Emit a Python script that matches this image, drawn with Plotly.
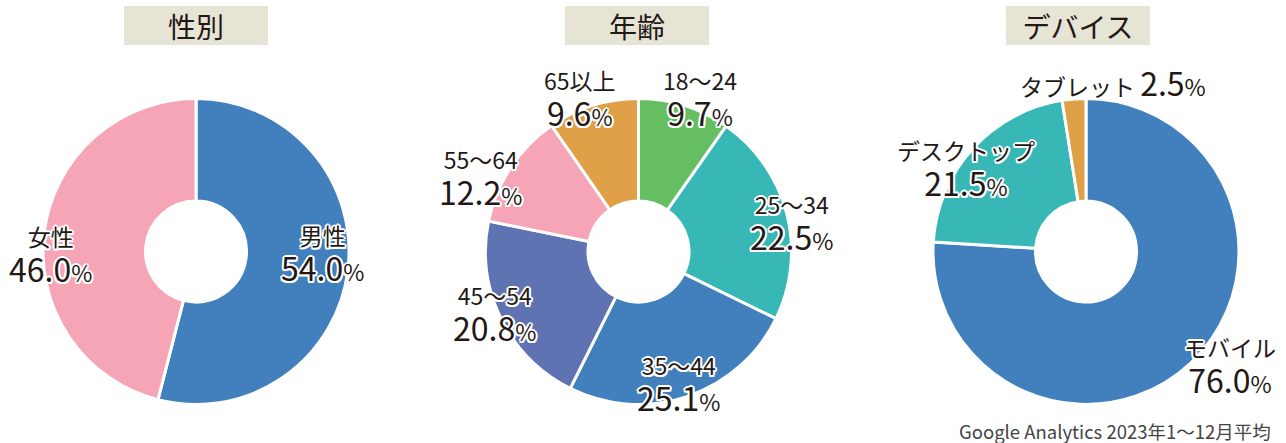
import math
import plotly.graph_objects as go

W, H = 1286, 443

# ---- data ----
titles = ["性別", "年齢", "デバイス"]
gender_labels = ["男性", "女性"]
gender_values = [54.0, 46.0]
age_labels = ["18〜24", "25〜34", "35〜44", "45〜54", "55〜64", "65以上"]
age_values = [9.7, 22.5, 25.1, 20.8, 12.2, 9.6]
device_labels = ["モバイル", "デスクトップ", "タブレット"]
device_values = [76.0, 21.5, 2.5]
footnote = "Google Analytics 2023年1〜12月平均"

# ---- style ----
BLUE, PINK, GREEN, TEAL, INDIGO, ORANGE = "#4180BD", "#F6A5B7", "#66BE62", "#37B7B5", "#5F73B3", "#E0A048"
gender_colors = [BLUE, PINK]
age_colors = [GREEN, TEAL, BLUE, INDIGO, PINK, ORANGE]
device_colors = [BLUE, TEAL, ORANGE]
FONT = "Noto Sans CJK JP"
TXT = "#231815"
HALO = ("2px 0 #fff, -2px 0 #fff, 0 2px #fff, 0 -2px #fff, "
        "1.5px 1.5px #fff, -1.5px -1.5px #fff, 1.5px -1.5px #fff, -1.5px 1.5px #fff")
NAME_SIZE, VAL_SIZE, LINE_BASE = 23, 32, 28

cxs = [196, 638.5, 1086]
cy = 251.5
R = 153
title_cx = [196, 637, 1078]

charts = [
    (gender_labels, gender_values, gender_colors, [0.824, 0.948], [-6, -8.6], []),
    (age_labels, age_values, age_colors, [1.075, 1.02, 0.905, 1.026, 1.137, 1.07],
     [4.5, 4.1, 2.1, 2.4, -8.3, -3.7], []),
    (device_labels, device_values, device_colors, [1.2, 0.952, 1.122], [-8.4, -7.8, 13.5], [2]),
]

fig = go.Figure()
annotations = []

for ci, (labels, values, colors, rfac, dang, single) in enumerate(charts):
    cx = cxs[ci]
    fig.add_trace(go.Pie(
        labels=labels, values=values, sort=False, direction="clockwise", rotation=0,
        hole=0.33, marker=dict(colors=colors, line=dict(color="white", width=3)),
        textinfo="none", hoverinfo="skip", showlegend=False,
        domain=dict(x=[(cx - R) / W, (cx + R) / W], y=[1 - (cy + R) / H, 1 - (cy - R) / H]),
    ))
    # title box
    annotations.append(dict(
        x=title_cx[ci] / W, y=1 - 25.5 / H, xref="paper", yref="paper",
        xanchor="center", yanchor="middle", showarrow=False,
        text=titles[ci], font=dict(family=FONT, size=28, color=TXT),
        bgcolor="#E6E4D4", width=144, height=39, borderpad=0, borderwidth=0,
    ))
    total = sum(values)
    cum = 0
    for i, (lab, v) in enumerate(zip(labels, values)):
        mid = (cum + v / 2) / total * 360 + dang[i]
        cum += v
        r = rfac[i] * R
        x = cx + r * math.sin(math.radians(mid))
        y = cy - r * math.cos(math.radians(mid))
        name = f"<span style='font-size:{NAME_SIZE}px'>{lab}</span>"
        val = (f"<span style='font-size:{VAL_SIZE}px'>{v:.1f}</span>"
               f"<span style='font-size:{NAME_SIZE}px'>%</span>")
        if i in single:
            text, fsize = f"{name} {val}", NAME_SIZE
        else:
            text, fsize = f"{name}<br>{val}", LINE_BASE
        annotations.append(dict(x=x / W, y=1 - y / H, xref="paper", yref="paper",
                                xanchor="center", yanchor="middle", showarrow=False,
                                text=text,
                                font=dict(family=FONT, size=fsize, color=TXT, shadow=HALO)))

annotations.append(dict(
    x=1273 / W, y=1 - 431 / H, xref="paper", yref="paper", xanchor="right", yanchor="middle",
    showarrow=False, text=footnote, font=dict(family=FONT, size=18.5, color="#444444"),
))

fig.update_layout(
    width=W, height=H, margin=dict(l=0, r=0, t=0, b=0),
    paper_bgcolor="white", plot_bgcolor="white",
    annotations=annotations, font=dict(family=FONT),
)

fig.write_html(
    "out.html",
    config={"displayModeBar": False},
    post_script="document.body.style.margin='0';document.body.style.overflow='hidden';",
)
